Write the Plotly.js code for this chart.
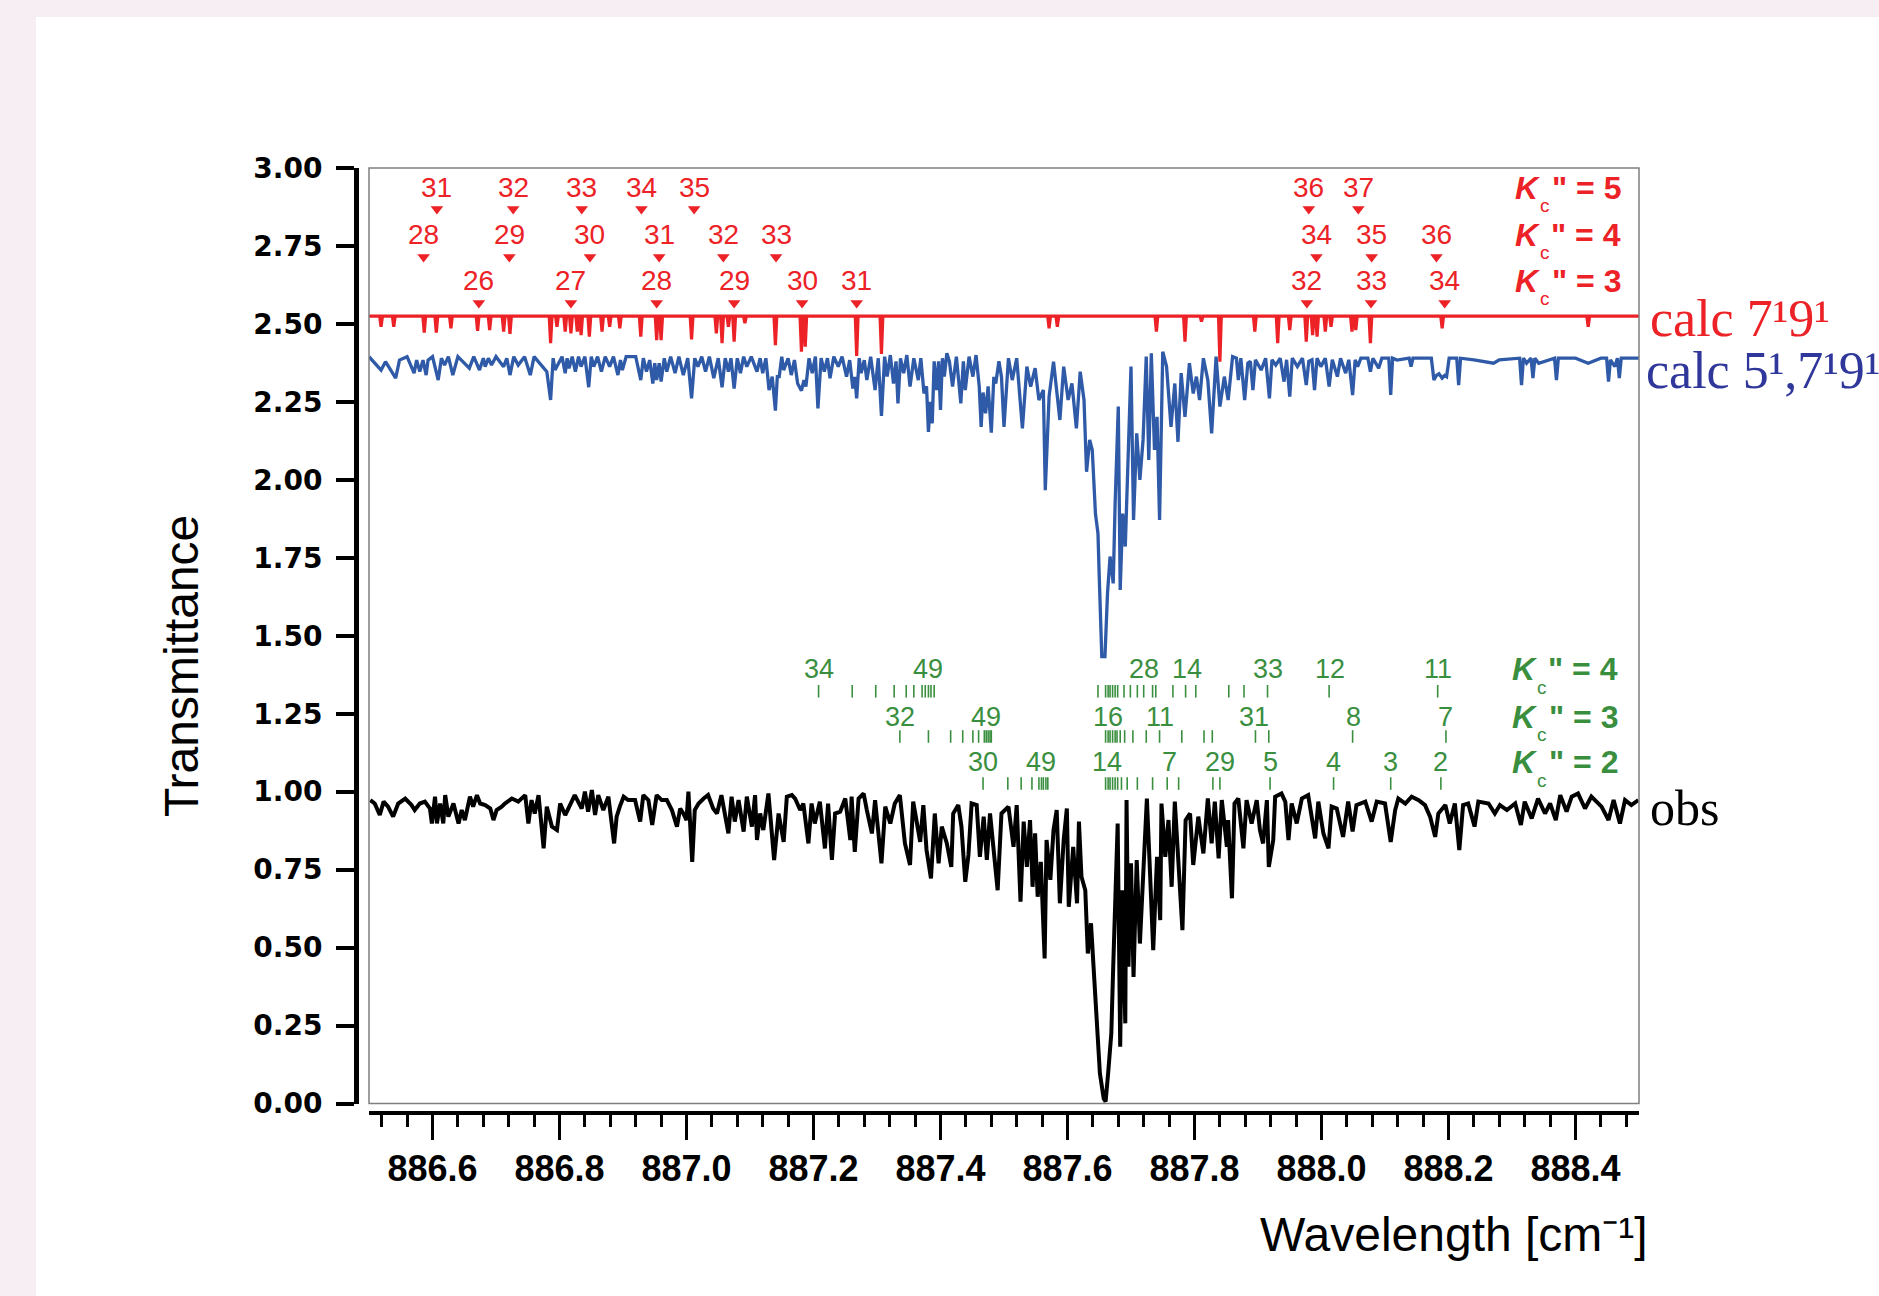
<!DOCTYPE html>
<html><head><meta charset="utf-8">
<script src="https://cdn.plot.ly/plotly-3.0.1.min.js"></script>
<style>html,body{margin:0;padding:0;background:#f7eef4;}</style>
</head><body><div id="chart" style="width:1879px;height:1296px;"></div>
<script>
const obsX = [886.502,886.509,886.517,886.523,886.530,886.538,886.546,886.557,886.567,886.572,886.580,886.588,886.596,886.599,886.604,886.607,886.612,886.617,886.620,886.625,886.633,886.641,886.646,886.651,886.659,886.664,886.670,886.675,886.683,886.691,886.696,886.701,886.709,886.714,886.725,886.735,886.746,886.751,886.756,886.761,886.767,886.775,886.780,886.788,886.796,886.801,886.809,886.817,886.824,886.835,886.840,886.845,886.851,886.856,886.861,886.869,886.877,886.886,886.890,886.895,886.901,886.908,886.919,886.927,886.932,886.940,886.946,886.953,886.961,886.969,886.977,886.985,886.990,886.995,887.000,887.003,887.009,887.013,887.019,887.027,887.034,887.042,887.048,887.055,887.066,887.071,887.076,887.082,887.090,887.095,887.103,887.108,887.111,887.116,887.121,887.129,887.138,887.145,887.153,887.158,887.166,887.171,887.179,887.184,887.192,887.197,887.202,887.210,887.218,887.223,887.229,887.234,887.242,887.250,887.258,887.260,887.265,887.271,887.279,887.284,887.292,887.297,887.307,887.313,887.321,887.328,887.336,887.344,887.352,887.357,887.368,887.373,887.378,887.385,887.391,887.397,887.402,887.410,887.417,887.420,887.428,887.433,887.439,887.444,887.449,887.457,887.462,887.468,887.473,887.478,887.486,887.490,887.496,887.507,887.515,887.520,887.526,887.531,887.536,887.541,887.545,887.549,887.553,887.558,887.564,887.567,887.573,887.578,887.583,887.588,887.594,887.599,887.602,887.609,887.615,887.618,887.622,887.628,887.632,887.637,887.641,887.646,887.651,887.657,887.660,887.664,887.669,887.672,887.676,887.679,887.683,887.686,887.691,887.693,887.696,887.700,887.704,887.709,887.714,887.719,887.725,887.730,887.735,887.741,887.746,887.748,887.754,887.759,887.764,887.769,887.775,887.781,887.786,887.793,887.798,887.806,887.814,887.821,887.827,887.832,887.838,887.843,887.851,887.853,887.859,887.863,887.869,887.877,887.882,887.890,887.898,887.903,887.908,887.914,887.917,887.924,887.927,887.937,887.943,887.948,887.953,887.961,887.969,887.979,887.990,887.995,888.003,888.011,888.016,888.024,888.034,888.042,888.049,888.055,888.069,888.079,888.087,888.100,888.109,888.116,888.121,888.132,888.142,888.153,888.163,888.171,888.179,888.184,888.195,888.202,888.210,888.217,888.223,888.231,888.241,888.247,888.263,888.273,888.281,888.292,888.305,888.314,888.320,888.331,888.341,888.352,888.360,888.369,888.376,888.386,888.394,888.404,888.415,888.425,888.441,888.452,888.460,888.470,888.478,888.488,888.499];
const obsY = [0.973,0.962,0.925,0.968,0.952,0.920,0.962,0.978,0.957,0.941,0.962,0.968,0.946,0.898,0.984,0.898,0.962,0.898,0.989,0.920,0.962,0.898,0.941,0.909,0.984,0.952,0.989,0.962,0.957,0.946,0.909,0.941,0.952,0.962,0.978,0.968,0.989,0.898,0.973,0.930,0.989,0.818,0.952,0.888,0.877,0.962,0.925,0.962,0.989,0.946,1.000,0.936,1.005,0.925,0.989,0.941,0.984,0.834,0.920,0.952,0.984,0.973,0.973,0.904,0.989,0.973,0.893,0.989,0.973,0.973,0.941,0.888,0.946,0.930,0.909,1.000,0.775,0.941,0.962,0.978,0.989,0.946,0.930,0.989,0.866,0.984,0.904,0.973,0.872,0.984,0.888,0.989,0.845,0.930,0.877,0.994,0.781,0.930,0.839,0.984,0.989,0.978,0.941,0.962,0.834,0.962,0.898,0.968,0.818,0.962,0.781,0.930,0.936,0.978,0.845,0.984,0.807,0.978,0.994,0.941,0.866,0.973,0.770,0.952,0.898,0.962,0.989,0.834,0.765,0.968,0.839,0.957,0.813,0.722,0.930,0.770,0.888,0.834,0.759,0.930,0.957,0.888,0.711,0.797,0.962,0.957,0.791,0.920,0.781,0.930,0.759,0.684,0.930,0.952,0.823,0.957,0.647,0.904,0.759,0.909,0.695,0.866,0.663,0.775,0.465,0.845,0.717,0.877,0.941,0.642,0.845,0.946,0.631,0.823,0.642,0.904,0.727,0.684,0.481,0.578,0.439,0.289,0.097,0.016,0.006,0.097,0.225,0.439,0.738,0.898,0.182,0.684,0.257,0.973,0.439,0.770,0.406,0.781,0.513,0.727,0.978,0.738,0.492,0.791,0.588,0.962,0.791,0.909,0.695,0.968,0.770,0.556,0.909,0.930,0.765,0.920,0.802,0.978,0.834,0.968,0.786,0.973,0.823,0.909,0.658,0.962,0.978,0.818,0.973,0.898,0.973,0.877,0.834,0.973,0.759,0.845,0.984,0.994,0.968,0.845,0.962,0.898,0.978,0.989,0.850,0.968,0.866,0.818,0.952,0.946,0.855,0.968,0.872,0.957,0.968,0.904,0.968,0.962,0.839,0.941,0.978,0.962,0.984,0.973,0.957,0.920,0.855,0.930,0.957,0.898,0.962,0.813,0.957,0.962,0.888,0.968,0.962,0.930,0.957,0.941,0.962,0.893,0.968,0.914,0.978,0.930,0.962,0.909,0.989,0.936,0.984,0.994,0.946,0.984,0.952,0.909,0.973,0.898,0.973,0.957,0.973];

// ---------------- calc 5^1,7^1 9^1 (blue) ----------------
const blueX = [886.500,886.519,886.526,886.542,886.548,886.560,886.571,886.575,886.580,886.585,886.590,886.593,886.600,886.609,886.614,886.619,886.625,886.632,886.640,886.658,886.665,886.674,886.680,886.683,886.688,886.693,886.700,886.712,886.717,886.722,886.728,886.735,886.745,886.754,886.760,886.780,886.786,886.790,886.793,886.799,886.804,886.809,886.812,886.815,886.820,886.825,886.830,886.834,886.840,886.846,886.850,886.854,886.860,886.866,886.872,886.879,886.885,886.892,886.896,886.899,886.905,886.920,886.928,886.932,886.937,886.942,886.947,886.950,886.953,886.957,886.960,886.965,886.969,886.975,886.982,886.988,886.995,887.002,887.008,887.013,887.018,887.024,887.030,887.036,887.043,887.050,887.056,887.061,887.066,887.070,887.075,887.080,887.085,887.090,887.095,887.102,887.111,887.116,887.120,887.125,887.130,887.135,887.140,887.143,887.146,887.150,887.153,887.160,887.165,887.170,887.175,887.181,887.185,887.188,887.193,887.198,887.203,887.207,887.212,887.217,887.222,887.226,887.232,887.239,887.245,887.252,887.257,887.262,887.265,887.268,887.272,887.275,887.280,887.284,887.290,887.297,887.302,887.307,887.312,887.316,887.321,887.326,887.330,887.333,887.337,887.342,887.347,887.352,887.358,887.365,887.369,887.374,887.378,887.381,887.384,887.387,887.390,887.394,887.397,887.400,887.403,887.406,887.410,887.414,887.419,887.425,887.432,887.436,887.439,887.445,887.451,887.456,887.461,887.464,887.467,887.471,887.475,887.480,887.484,887.487,887.492,887.496,887.500,887.507,887.513,887.520,887.529,887.536,887.542,887.549,887.555,887.562,887.565,887.571,887.578,887.588,887.594,887.601,887.607,887.614,887.620,887.626,887.630,887.635,887.639,887.644,887.648,887.650,887.654,887.659,887.663,887.667,887.672,887.675,887.680,887.683,887.687,887.691,887.696,887.700,887.704,887.709,887.714,887.719,887.724,887.728,887.732,887.737,887.741,887.745,887.750,887.756,887.763,887.769,887.774,887.779,887.785,887.792,887.798,887.803,887.808,887.814,887.821,887.827,887.834,887.840,887.847,887.853,887.860,887.866,887.869,887.873,887.879,887.884,887.888,887.892,887.896,887.905,887.912,887.918,887.922,887.928,887.935,887.941,887.945,887.950,887.954,887.962,887.970,887.976,887.980,887.985,887.989,887.993,887.999,888.006,888.012,888.017,888.025,888.030,888.038,888.043,888.049,888.053,888.057,888.062,888.073,888.077,888.081,888.090,888.095,888.106,888.109,888.112,888.119,888.138,888.141,888.144,888.154,888.173,888.177,888.181,888.185,888.190,888.194,888.197,888.201,888.213,888.216,888.219,888.240,888.271,888.280,888.312,888.315,888.318,888.323,888.330,888.333,888.336,888.342,888.367,888.370,888.373,888.400,888.420,888.440,888.449,888.452,888.455,888.462,888.466,888.469,888.472,888.500];
const blueY = [2.395,2.352,2.379,2.326,2.384,2.395,2.342,2.384,2.347,2.384,2.336,2.384,2.395,2.320,2.390,2.368,2.395,2.336,2.395,2.358,2.395,2.352,2.390,2.363,2.390,2.368,2.395,2.363,2.390,2.336,2.395,2.368,2.395,2.336,2.395,2.347,2.256,2.390,2.352,2.374,2.395,2.342,2.390,2.358,2.395,2.347,2.395,2.363,2.395,2.297,2.395,2.363,2.395,2.347,2.395,2.363,2.395,2.336,2.384,2.352,2.395,2.395,2.320,2.390,2.347,2.384,2.309,2.374,2.320,2.374,2.315,2.390,2.347,2.395,2.342,2.395,2.336,2.390,2.261,2.390,2.363,2.395,2.347,2.395,2.326,2.390,2.297,2.390,2.347,2.390,2.293,2.390,2.342,2.395,2.363,2.395,2.347,2.390,2.342,2.390,2.288,2.331,2.222,2.331,2.331,2.395,2.352,2.390,2.336,2.384,2.309,2.286,2.320,2.299,2.390,2.342,2.395,2.229,2.390,2.347,2.390,2.326,2.395,2.363,2.395,2.331,2.384,2.293,2.330,2.261,2.390,2.342,2.384,2.320,2.395,2.288,2.390,2.205,2.395,2.331,2.400,2.309,2.380,2.245,2.390,2.342,2.400,2.299,2.390,2.320,2.390,2.277,2.300,2.154,2.250,2.181,2.380,2.288,2.380,2.224,2.390,2.331,2.406,2.380,2.299,2.395,2.245,2.380,2.288,2.395,2.331,2.400,2.300,2.170,2.280,2.213,2.300,2.151,2.330,2.309,2.380,2.331,2.170,2.390,2.320,2.390,2.165,2.363,2.299,2.358,2.256,2.288,1.967,2.267,2.379,2.192,2.363,2.256,2.309,2.165,2.347,2.256,2.026,2.128,2.096,1.892,1.828,1.689,1.433,1.433,1.636,1.754,1.668,1.925,2.235,1.647,1.892,1.786,2.149,2.363,1.871,2.149,2.000,2.128,2.395,2.064,2.406,2.096,2.202,1.871,2.411,2.363,2.170,2.309,2.122,2.342,2.202,2.374,2.277,2.331,2.256,2.390,2.320,2.149,2.395,2.235,2.331,2.256,2.395,2.390,2.320,2.390,2.256,2.374,2.380,2.288,2.385,2.352,2.390,2.261,2.385,2.368,2.390,2.315,2.385,2.267,2.390,2.363,2.390,2.304,2.380,2.385,2.288,2.390,2.363,2.390,2.299,2.385,2.331,2.390,2.342,2.385,2.272,2.385,2.363,2.390,2.390,2.347,2.390,2.358,2.390,2.390,2.272,2.390,2.384,2.390,2.363,2.390,2.390,2.390,2.320,2.335,2.340,2.326,2.335,2.331,2.390,2.390,2.304,2.390,2.385,2.374,2.385,2.390,2.304,2.390,2.374,2.390,2.326,2.390,2.374,2.390,2.320,2.390,2.390,2.374,2.390,2.390,2.315,2.385,2.363,2.390,2.326,2.390,2.390];

// ---------------- calc 7^1 9^1 (red): baseline and line dips ----------------
const redBase = 2.525;
const redDipX = [886.519,886.539,886.587,886.606,886.629,886.671,886.690,886.712,886.722,886.786,886.796,886.809,886.818,886.828,886.834,886.847,886.867,886.879,886.895,886.928,886.953,886.960,887.008,887.047,887.056,887.066,887.075,887.092,887.140,887.181,887.187,887.268,887.307,887.571,887.584,887.740,887.785,887.811,887.840,887.895,887.931,887.950,887.976,887.986,887.993,888.006,888.015,888.048,888.054,888.077,888.190,888.420];
const redDipY = [2.491,2.491,2.472,2.472,2.486,2.478,2.480,2.475,2.468,2.438,2.491,2.475,2.470,2.475,2.464,2.459,2.475,2.491,2.486,2.459,2.448,2.448,2.450,2.470,2.438,2.491,2.443,2.502,2.432,2.411,2.427,2.397,2.404,2.486,2.491,2.475,2.443,2.507,2.379,2.475,2.438,2.480,2.443,2.464,2.459,2.475,2.491,2.475,2.480,2.438,2.486,2.491];

// ---------------- red assignment markers (K_c'' = 5, 4, 3) ----------------
const red5X = [886.607,886.727,886.835,886.929,887.012,887.980,888.058];
const red5Labels = ['31','32','33','34','35','36','37'];
const red4X = [886.586,886.721,886.848,886.957,887.058,887.141,887.992,888.079,888.181];
const red4Labels = ['28','29','30','31','32','33','34','35','36'];
const red3X = [886.673,886.818,886.953,887.075,887.182,887.268,887.977,888.078,888.194];
const red3Labels = ['26','27','28','29','30','31','32','33','34'];
const redRowMarkY = [2.8685, 2.7146, 2.567];
const redRowLabelY = [2.936, 2.786, 2.638];
const redRowK = ['5', '4', '3'];

// ---------------- green stick assignments (K_c'' = 4, 3, 2) ----------------
const g4TickX = [887.208,887.261,887.298,887.327,887.346,887.358,887.371,887.376,887.381,887.385,887.390,887.648,887.660,887.664,887.667,887.671,887.675,887.679,887.689,887.699,887.710,887.720,887.734,887.739,887.766,887.786,887.802,887.854,887.878,887.915,888.012,888.183];
const g4LabelX = [887.208,887.381,887.720,887.788,887.916,888.013,888.183];
const g4Labels = ['34','49','28','14','33','12','11'];
const g3TickX = [887.336,887.381,887.416,887.435,887.451,887.460,887.469,887.472,887.475,887.478,887.480,887.660,887.664,887.667,887.671,887.675,887.678,887.683,887.690,887.703,887.724,887.745,887.780,887.815,887.828,887.896,887.917,888.049,888.196];
const g3LabelX = [887.336,887.471,887.664,887.745,887.894,888.051,888.196];
const g3Labels = ['32','49','16','11','31','8','7'];
const g2TickX = [887.467,887.506,887.527,887.544,887.555,887.559,887.562,887.566,887.569,887.660,887.664,887.667,887.671,887.675,887.679,887.685,887.694,887.710,887.734,887.757,887.775,887.829,887.840,887.919,888.019,888.109,888.188];
const g2LabelX = [887.467,887.559,887.662,887.760,887.840,887.919,888.019,888.109,888.188];
const g2Labels = ['30','49','14','7','29','5','4','3','2'];
const greenRowTickY = [1.322, 1.177, 1.026];
const greenRowLabelY = [1.392, 1.241, 1.094];
const greenRowK = ['4', '3', '2'];

// ---------------- colours / fonts ----------------
const RED = '#ec2227', BLUE = '#2f5aa8', GREEN = '#3a8f3f', NAVY = '#30379a';
const SANS = 'Liberation Sans, Arial, sans-serif';
const SERIF = 'Liberation Serif, Times New Roman, serif';

// build red stick line from dips
const redX = [886.5], redY = [redBase];
const hw = 0.0022;
redDipX.forEach((x, i) => {
  redX.push(x - hw, x, x + hw);
  redY.push(redBase, redDipY[i], redBase);
});
redX.push(888.5); redY.push(redBase);

const traces = [
  {x: obsX, y: obsY, mode: 'lines', line: {color: '#000', width: 4}, hoverinfo: 'skip'},
  {x: blueX, y: blueY, mode: 'lines', line: {color: BLUE, width: 3.3}, hoverinfo: 'skip'},
  {x: redX, y: redY, mode: 'lines', line: {color: RED, width: 3.2}, hoverinfo: 'skip'}
];

const W = 1879, H = 1296;
const px = v => v / W, py = v => (H - v) / H;

const annotations = [];
function addLabels(xs, labels, yv, color, size) {
  xs.forEach((x, i) => annotations.push({xref: 'x', yref: 'y', x: x, y: yv, text: labels[i],
    showarrow: false, xanchor: 'center', yanchor: 'middle',
    font: {family: SANS, size: size, color: color}}));
}
// "K_c" = n" row label built from three pieces (K, subscript c, '" = n')
function addK(n, yv, color, rightPx) {
  annotations.push({xref: 'paper', yref: 'y', x: px(rightPx), y: yv, xanchor: 'right', yanchor: 'middle',
    showarrow: false, text: '<b>" = ' + n + '</b>', font: {family: SANS, size: 32, color: color}});
  annotations.push({xref: 'paper', yref: 'y', x: px(rightPx - 71), y: yv, yshift: -18, xanchor: 'right', yanchor: 'middle',
    showarrow: false, text: 'c', font: {family: SANS, size: 19, color: color}});
  annotations.push({xref: 'paper', yref: 'y', x: px(rightPx - 80), y: yv, xanchor: 'right', yanchor: 'middle',
    showarrow: false, text: '<b><i>K</i></b>', font: {family: SANS, size: 32, color: color}});
}

[[red5X, red5Labels], [red4X, red4Labels], [red3X, red3Labels]].forEach((row, i) => {
  traces.push({x: row[0], y: row[0].map(() => redRowMarkY[i]), mode: 'markers',
    marker: {symbol: 'triangle-down', size: 11, color: RED}, hoverinfo: 'skip'});
  addLabels(row[0], row[1], redRowLabelY[i], RED, 28);
  addK(redRowK[i], redRowLabelY[i], RED, 1623);
});

[[g4TickX, g4LabelX, g4Labels], [g3TickX, g3LabelX, g3Labels], [g2TickX, g2LabelX, g2Labels]].forEach((row, i) => {
  traces.push({x: row[0], y: row[0].map(() => greenRowTickY[i]), mode: 'markers',
    marker: {symbol: 'line-ns', size: 9, color: GREEN, line: {color: GREEN, width: 1.6}}, hoverinfo: 'skip'});
  addLabels(row[1], row[2], greenRowLabelY[i], GREEN, 27);
  addK(greenRowK[i], greenRowLabelY[i], GREEN, 1620);
});

annotations.push({xref: 'paper', yref: 'paper', x: px(1648), y: py(318), xanchor: 'left', yanchor: 'middle',
  showarrow: false, text: 'calc 7\u00b99\u00b9', font: {family: SERIF, size: 52, color: RED}});
annotations.push({xref: 'paper', yref: 'paper', x: px(1644), y: py(370), xanchor: 'left', yanchor: 'middle',
  showarrow: false, text: 'calc 5\u00b9,7\u00b99\u00b9', font: {family: SERIF, size: 52, color: NAVY}});
annotations.push({xref: 'paper', yref: 'paper', x: px(1648), y: py(808), xanchor: 'left', yanchor: 'middle',
  showarrow: false, text: 'obs', font: {family: SERIF, size: 50, color: '#000'}});
annotations.push({xref: 'paper', yref: 'paper', x: px(182), y: py(666), xanchor: 'center', yanchor: 'middle',
  textangle: -90, showarrow: false, text: 'Transmittance', font: {family: SANS, size: 48, color: '#000'}});
annotations.push({xref: 'paper', yref: 'paper', x: px(1650), y: py(1234), xanchor: 'right', yanchor: 'middle',
  showarrow: false, text: 'Wavelength [cm\u207b\u00b9]', font: {family: SANS, size: 48, color: '#000'}});

const layout = {
  width: W, height: H, autosize: false,
  margin: {l: 0, r: 0, t: 0, b: 0},
  paper_bgcolor: '#f7eef4', plot_bgcolor: 'rgba(0,0,0,0)',
  showlegend: false,
  xaxis: {
    domain: [px(369), px(1639)], anchor: 'free', position: py(1113),
    range: [886.5, 888.5], tick0: 886.6, dtick: 0.2, tickformat: '.1f',
    showline: true, linecolor: '#000', linewidth: 4,
    ticks: 'outside', ticklen: 25, tickwidth: 3.5, tickcolor: '#000',
    minor: {dtick: 0.04, tick0: 886.6, ticks: 'outside', ticklen: 12, tickwidth: 3, tickcolor: '#000', showgrid: false},
    showgrid: false, zeroline: false, ticklabelstandoff: -2,
    tickfont: {family: SANS, size: 36, color: '#000', weight: 'bold'}
  },
  yaxis: {
    domain: [py(1103.5), py(168)], anchor: 'free', position: px(356),
    range: [0, 3], tick0: 0, dtick: 0.25, tickformat: '.2f',
    showline: true, linecolor: '#000', linewidth: 5,
    ticks: 'outside', ticklen: 18, tickwidth: 4, tickcolor: '#000',
    showgrid: false, zeroline: false, ticklabelstandoff: 8,
    tickfont: {family: 'DejaVu Sans, sans-serif', size: 28, color: '#000', weight: 'bold'}
  },
  shapes: [
    {type: 'rect', xref: 'paper', yref: 'paper', x0: px(36), x1: 1, y0: 0, y1: py(17),
      fillcolor: '#ffffff', line: {width: 0}, layer: 'below'},
    {type: 'rect', xref: 'x domain', yref: 'y domain', x0: 0, x1: 1, y0: 0, y1: 1,
      line: {color: '#7f7f7f', width: 1.5}, fillcolor: 'rgba(0,0,0,0)', layer: 'above'}
  ],
  annotations: annotations
};

Plotly.newPlot('chart', traces, layout, {displayModeBar: false, staticPlot: true});
</script>
</body></html>
